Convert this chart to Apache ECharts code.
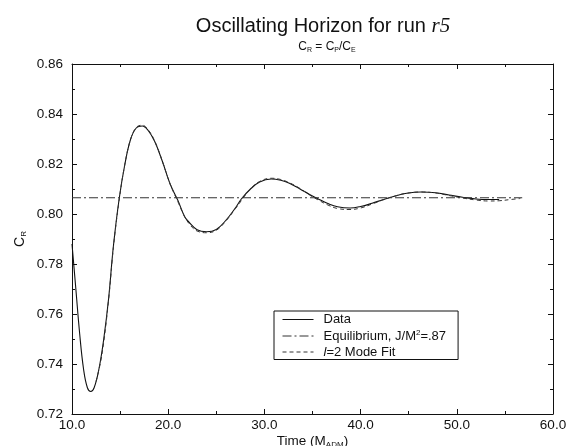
<!DOCTYPE html>
<html>
<head>
<meta charset="utf-8">
<script src="https://cdn.jsdelivr.net/npm/echarts@6/dist/echarts.min.js"></script>
<style>
  html, body { margin: 0; padding: 0; background: #fff; }
  #chart { width: 572px; height: 446px; }
</style>
</head>
<body>
<div id="chart"></div>
<script>
// Horizon ratio C_R over time for run r5
const dataT  = [10.0, 10.4, 10.8, 11.2, 11.6, 11.95, 12.3, 12.8, 13.3, 13.8, 14.3, 14.9, 15.5, 16.1, 16.7, 17.3, 17.9, 18.6, 19.4, 20.2, 21.0, 21.7, 22.1, 23.0, 24.0, 25.0, 26.0, 27.0, 27.6, 28.5, 29.5, 30.7, 31.7, 32.6, 33.7, 34.7, 35.6, 36.6, 37.6, 38.9, 40.0, 41.2, 42.3, 43.5, 44.8, 46.3, 47.8, 49.2, 50.6, 52.0, 53.3, 54.4];
const dataCR = [0.788, 0.770, 0.752, 0.738, 0.7305, 0.7290, 0.7305, 0.738, 0.750, 0.766, 0.787, 0.806, 0.820, 0.830, 0.8345, 0.8352, 0.8335, 0.829, 0.821, 0.812, 0.8055, 0.799, 0.797, 0.7937, 0.7929, 0.7938, 0.7975, 0.8025, 0.806, 0.8098, 0.8128, 0.8140, 0.8135, 0.8123, 0.8100, 0.8078, 0.8060, 0.8042, 0.8029, 0.8024, 0.8030, 0.8043, 0.8057, 0.8071, 0.8083, 0.8088, 0.8085, 0.8076, 0.8067, 0.8060, 0.8058, 0.8058];

// l=2 quasinormal mode fit
const fitT  = [12.5, 13.1, 13.8, 14.3, 14.9, 15.5, 16.1, 16.7, 17.3, 17.9, 18.6, 19.4, 20.2, 21.0, 21.7, 22.3, 23.0, 24.0, 25.0, 26.0, 27.0, 28.5, 29.5, 30.7, 31.7, 32.6, 33.7, 34.7, 35.6, 36.6, 37.6, 38.9, 40.0, 41.2, 42.3, 43.5, 44.8, 46.3, 47.8, 49.2, 50.6, 52.0, 53.3, 54.4, 55.6, 56.6];
const fitCR = [0.7330, 0.7436, 0.7655, 0.7865, 0.8055, 0.8200, 0.8300, 0.8347, 0.8355, 0.8338, 0.8292, 0.8210, 0.8120, 0.8050, 0.7990, 0.7955, 0.7932, 0.7925, 0.7935, 0.7972, 0.8022, 0.8098, 0.8130, 0.8143, 0.8138, 0.8125, 0.8102, 0.8076, 0.8056, 0.8036, 0.8022, 0.8018, 0.8024, 0.8040, 0.8056, 0.8071, 0.8083, 0.8088, 0.8084, 0.8074, 0.8064, 0.8056, 0.8052, 0.8053, 0.8058, 0.8062];

// Equilibrium value for J/M^2 = .87
const eqT  = [10.0, 56.8];
const eqCR = [0.8065, 0.8065];

// Axis ranges
const xTicks = [10, 20, 30, 40, 50, 60];
const yTicks = [0.72, 0.74, 0.76, 0.78, 0.80, 0.82, 0.84, 0.86];

const pairs = (xs, ys) => xs.map((x, i) => [x, ys[i]]);

const FONT = '"Liberation Sans", Arial, Helvetica, sans-serif';
const BLACK = '#111';

const chart = echarts.init(document.getElementById('chart'), null, { renderer: 'canvas' });

const axisCommon = {
  axisLine: { show: true, lineStyle: { color: BLACK, width: 1 } },
  axisTick: { show: true, inside: true, length: 5, lineStyle: { color: BLACK, width: 1 } },
  minorTick: { show: true, splitNumber: 2, length: 3, lineStyle: { color: BLACK, width: 1 } },
  splitLine: { show: false }
};

chart.setOption({
  animation: false,
  backgroundColor: '#fff',
  grid: { left: 72, right: 19, top: 64, bottom: 32, containLabel: false, outerBoundsMode: 'none' },
  title: [
    {
      text: 'Oscillating Horizon for run {it|r5}',
      left: 318, top: 11, textAlign: 'center',
      textStyle: {
        fontFamily: FONT, fontSize: 20, fontWeight: 'normal', color: BLACK,
        rich: { it: { fontFamily: '"Liberation Serif", "Times New Roman", serif', fontStyle: 'italic', fontSize: 21, color: BLACK } }
      }
    },
    {
      text: 'C{sub|R} = C{sub|P}/C{sub|E}',
      left: 322, top: 35, textAlign: 'center',
      textStyle: {
        fontFamily: FONT, fontSize: 12, fontWeight: 'normal', color: BLACK, lineHeight: 14,
        rich: { sub: { fontFamily: FONT, fontSize: 7, lineHeight: 9, verticalAlign: 'bottom', color: BLACK } }
      }
    }
  ],
  legend: {
    orient: 'vertical',
    left: 274, top: 311,
    padding: [2, 12, 1, 8],
    itemGap: 3,
    itemWidth: 31, itemHeight: 12,
    borderColor: BLACK, borderWidth: 1,
    backgroundColor: '#fff',
    itemStyle: { opacity: 0 },
    lineStyle: { width: 1 },
    data: ['Data', 'Equilibrium', 'Fit'],
    formatter: function (name) {
      if (name === 'Equilibrium') return 'Equilibrium, J/M{sup|2}=.87';
      if (name === 'Fit') return '{it|l}=2 Mode Fit';
      return name;
    },
    textStyle: {
      fontFamily: FONT, fontSize: 13, color: BLACK, padding: [0, 0, 0, 5],
      rich: {
        sup: { fontFamily: FONT, fontSize: 8, lineHeight: 14, verticalAlign: 'top', color: BLACK },
        it: { fontFamily: FONT, fontStyle: 'italic', fontSize: 13, color: BLACK }
      }
    }
  },
  xAxis: [
    Object.assign({}, axisCommon, {
      type: 'value', min: xTicks[0], max: xTicks[xTicks.length - 1], interval: 10,
      position: 'bottom',
      name: 'Time (M{sub|ADM})', nameLocation: 'middle', nameGap: 19, nameMoveOverlap: false,
      nameTextStyle: {
        fontFamily: FONT, fontSize: 13.5, color: BLACK, lineHeight: 16,
        rich: { sub: { fontFamily: FONT, fontSize: 8, lineHeight: 10, verticalAlign: 'bottom', color: BLACK } }
      },
      axisLabel: { fontFamily: FONT, fontSize: 13.5, color: BLACK, margin: 4, formatter: v => v.toFixed(1) }
    }),
    Object.assign({}, axisCommon, {
      type: 'value', min: xTicks[0], max: xTicks[xTicks.length - 1], interval: 10,
      position: 'top', axisLabel: { show: false }
    })
  ],
  yAxis: [
    Object.assign({}, axisCommon, {
      type: 'value', min: yTicks[0], max: yTicks[yTicks.length - 1], interval: 0.02,
      position: 'left',
      name: 'C{sub|R}', nameLocation: 'middle', nameGap: 44, nameRotate: 90, nameMoveOverlap: false,
      nameTextStyle: {
        fontFamily: FONT, fontSize: 14, color: BLACK, lineHeight: 16,
        rich: { sub: { fontFamily: FONT, fontSize: 8, lineHeight: 10, verticalAlign: 'bottom', color: BLACK } }
      },
      axisLabel: { fontFamily: FONT, fontSize: 13.5, color: BLACK, margin: 9, formatter: v => v.toFixed(2) }
    }),
    Object.assign({}, axisCommon, {
      type: 'value', min: yTicks[0], max: yTicks[yTicks.length - 1], interval: 0.02,
      position: 'right', axisLabel: { show: false }
    })
  ],
  series: [
    {
      name: 'Data', type: 'line', xAxisIndex: 0, yAxisIndex: 0,
      data: pairs(dataT, dataCR), smooth: 0.4, symbol: 'none',
      lineStyle: { color: BLACK, width: 1.1, type: 'solid' },
      itemStyle: { color: BLACK }
    },
    {
      name: 'Equilibrium', type: 'line', xAxisIndex: 0, yAxisIndex: 0,
      data: pairs(eqT, eqCR), symbol: 'none',
      lineStyle: { color: '#333', width: 1, type: [9, 3, 2, 3] },
      itemStyle: { color: BLACK }
    },
    {
      name: 'Fit', type: 'line', xAxisIndex: 0, yAxisIndex: 0,
      data: pairs(fitT, fitCR), smooth: 0.4, symbol: 'none',
      lineStyle: { color: '#333', width: 1, type: [4, 3] },
      itemStyle: { color: BLACK }
    }
  ]
});
</script>
</body>
</html>
